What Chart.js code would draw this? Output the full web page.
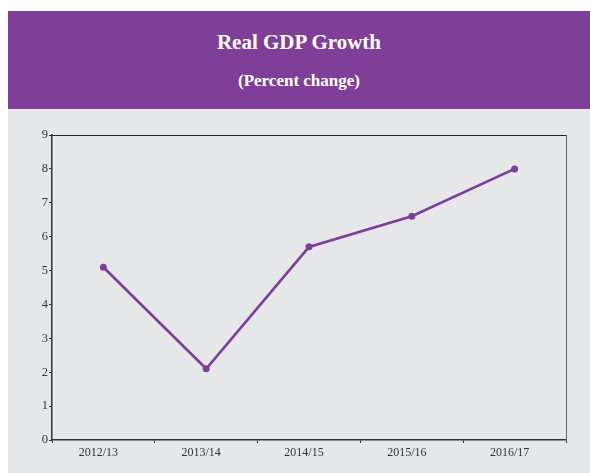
<!DOCTYPE html>
<html>
<head>
<meta charset="utf-8">
<script src="https://cdn.jsdelivr.net/npm/chart.js@4/dist/chart.umd.min.js"></script>
<style>
  html, body { margin: 0; padding: 0; background: #ffffff; }
  body { width: 590px; height: 473px; position: relative; overflow: hidden; }
  #header {
    position: absolute; left: 8px; top: 11px; width: 582px; height: 98px;
    background: #7f3f98; color: #ffffff;
    font-family: "Liberation Serif", "Times New Roman", serif; font-weight: bold;
  }
  #header .t1 { position: absolute; left: 0; width: 100%; text-align: center; top: 21px; font-size: 21px; line-height: 21px; }
  #header .t2 { position: absolute; left: 0; width: 100%; text-align: center; top: 61px; font-size: 17px; line-height: 17px; }
  #panel { position: absolute; left: 8px; top: 109px; width: 582px; height: 364px; background: #e6e7e9; }
  #panel canvas { display: block; }
</style>
</head>
<body>
<div id="header">
  <div class="t1">Real GDP Growth</div>
  <div class="t2">(Percent change)</div>
</div>
<div id="panel"><canvas id="chart" width="582" height="364"></canvas></div>
<script>
// Fiscal years on the horizontal axis
const years = ["2012/13", "2013/14", "2014/15", "2015/16", "2016/17"];
// Real GDP growth, percent change
const growth = [5.1, 2.1, 5.7, 6.6, 8.0];
// Value axis range and step
const yMin = 0;
const yMax = 9;
const yStep = 1;

const purple = "#7f3f98";
const axisInk = "#333333";
const serif = "'Liberation Serif', 'Times New Roman', serif";

// Closes the plot box with a top and right edge
const frame = {
  id: "frame",
  afterDraw(chart) {
    const { ctx, chartArea: a } = chart;
    ctx.save();
    ctx.lineWidth = 1.2;
    ctx.strokeStyle = "#222222";
    ctx.beginPath();
    ctx.moveTo(a.left, a.top + 0.5);
    ctx.lineTo(a.right, a.top + 0.5);
    ctx.stroke();
    ctx.strokeStyle = "#666666";
    ctx.lineWidth = 1;
    ctx.beginPath();
    ctx.moveTo(a.right + 0.5, a.top);
    ctx.lineTo(a.right + 0.5, a.bottom);
    ctx.stroke();
    ctx.restore();
  }
};

new Chart(document.getElementById("chart"), {
  type: "line",
  data: {
    labels: years,
    datasets: [{
      data: growth,
      borderColor: purple,
      backgroundColor: purple,
      borderWidth: 2.7,
      pointRadius: 3.5,
      pointHoverRadius: 3.5,
      pointBackgroundColor: purple,
      pointBorderColor: purple,
      pointBorderWidth: 0,
      tension: 0,
      fill: false
    }]
  },
  options: {
    responsive: false,
    animation: false,
    devicePixelRatio: 1,
    layout: { padding: { top: 26, right: 24, bottom: 0, left: 0 } },
    plugins: { legend: { display: false }, tooltip: { enabled: false }, title: { display: false } },
    scales: {
      x: {
        type: "category",
        offset: true,
        grid: { display: true, drawOnChartArea: false, drawTicks: true, tickLength: 3, color: axisInk, lineWidth: 1, offset: true },
        border: { display: true, color: axisInk, width: 1.5 },
        ticks: { color: axisInk, font: { family: serif, size: 12 }, padding: 3, labelOffset: -5, maxRotation: 0, autoSkip: false },
        afterFit(s) { s.height = 33; }
      },
      y: {
        min: yMin,
        max: yMax,
        grid: { display: true, drawOnChartArea: false, drawTicks: true, tickLength: 3, color: axisInk, lineWidth: 1 },
        border: { display: true, color: axisInk, width: 1.5 },
        ticks: { stepSize: yStep, color: axisInk, font: { family: serif, size: 12.5 }, padding: 1 },
        afterFit(s) { s.width = 44; }
      }
    }
  },
  plugins: [frame]
});
</script>
</body>
</html>
